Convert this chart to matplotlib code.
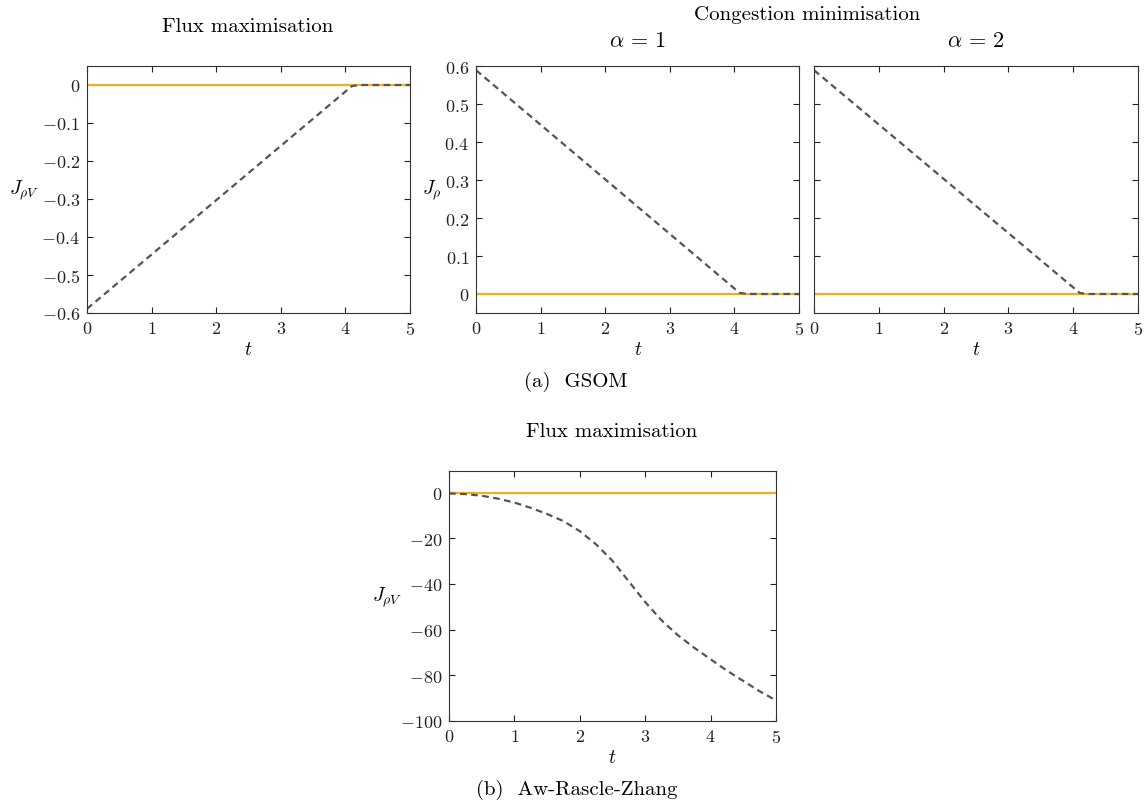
import matplotlib
matplotlib.use("Agg")
import matplotlib.pyplot as plt
from matplotlib.ticker import FuncFormatter

plt.rcParams['font.family'] = 'serif'
plt.rcParams['font.serif'] = ['cmr10', 'DejaVu Serif']
plt.rcParams['mathtext.fontset'] = 'cm'
plt.rcParams['axes.formatter.use_mathtext'] = True

YELLOW = '#EDB120'
GREY = '#555555'

# GSOM, flux maximisation
t_flux = [0, 4.1, 4.2, 5]
j_flux_dash = [-0.589, -0.003, 0, 0]
j_flux_opt = [0, 0, 0, 0]

# GSOM, congestion minimisation
t_cong1 = [0, 4.08, 4.2, 5]
j_cong1_dash = [0.589, 0.003, 0, 0]
t_cong2 = [0, 4.1, 4.2, 5]
j_cong2_dash = [0.589, 0.003, 0, 0]
j_cong_opt = [0, 0, 0, 0]

# ARZ, flux maximisation
t_arz = [0, 0.25, 0.5, 0.75, 1, 1.25, 1.5, 1.75, 2, 2.25, 2.5, 2.75,
         3, 3.25, 3.5, 3.75, 4, 4.25, 4.5, 4.75, 5]
j_arz_dash = [-0.5, -0.8, -1.5, -2.8, -4.5, -6.8, -9.5, -12.6, -17, -22.8, -30, -39,
              -48, -56, -62.5, -68, -73, -78, -82.5, -87, -91]
j_arz_opt = [-0.3] * len(t_arz)

W, H = 1147, 803
fig = plt.figure(figsize=(W / 100, H / 100), dpi=100)

fmt = FuncFormatter(lambda v, _: f'${v:g}$')


def px_axes(left, top, right, bottom):
    return fig.add_axes([left / W, 1 - bottom / H, (right - left) / W, (bottom - top) / H])


def style(ax):
    ax.tick_params(direction='in', top=True, right=True, length=4, width=0.8,
                   labelsize=13, colors='#222222', pad=5)
    for s in ax.spines.values():
        s.set_linewidth(0.8)
        s.set_color('#333333')
    ax.set_xlim(0, 5)
    ax.set_xticks([0, 1, 2, 3, 4, 5])
    ax.xaxis.set_major_formatter(fmt)
    ax.yaxis.set_major_formatter(fmt)


def ftext(x, y, s, size=15, **kw):
    fig.text(x / W, 1 - y / H, s, fontsize=size, ha='center', va='center', **kw)


ax1 = px_axes(87, 67, 410, 314)
ax1.plot(t_flux, j_flux_opt, color=YELLOW, lw=1.6)
ax1.plot(t_flux, j_flux_dash, color=GREY, lw=1.6, dashes=(3, 2))
ax1.set_ylim(-0.6, 0.05)
ax1.set_yticks([0, -0.1, -0.2, -0.3, -0.4, -0.5, -0.6])
style(ax1)

ax2 = px_axes(476, 67, 799, 314)
ax2.plot(t_cong1, j_cong_opt, color=YELLOW, lw=1.6)
ax2.plot(t_cong1, j_cong1_dash, color=GREY, lw=1.6, dashes=(3, 2))
ax2.set_ylim(-0.05, 0.6)
ax2.set_yticks([0, 0.1, 0.2, 0.3, 0.4, 0.5, 0.6])
style(ax2)

ax3 = px_axes(814, 67, 1138, 314)
ax3.plot(t_cong2, j_cong_opt, color=YELLOW, lw=1.6)
ax3.plot(t_cong2, j_cong2_dash, color=GREY, lw=1.6, dashes=(3, 2))
ax3.set_ylim(-0.05, 0.6)
ax3.set_yticks([0, 0.1, 0.2, 0.3, 0.4, 0.5, 0.6])
style(ax3)
ax3.tick_params(labelleft=False)

ax4 = px_axes(449, 472, 776, 722)
ax4.plot(t_arz, j_arz_opt, color=YELLOW, lw=1.6)
ax4.plot(t_arz, j_arz_dash, color=GREY, lw=1.6, dashes=(3, 2))
ax4.set_ylim(-100, 9.3)
ax4.set_yticks([0, -20, -40, -60, -80, -100])
style(ax4)

ftext(248, 27, 'Flux maximisation')
ftext(807, 15, 'Congestion minimisation')
ftext(638, 41, r'$\alpha\,=\,1$', size=16)
ftext(976, 41, r'$\alpha\,=\,2$', size=16)
ftext(612, 432, 'Flux maximisation')

ftext(248, 350, r'$t$', size=14)
ftext(638, 350, r'$t$', size=14)
ftext(976, 350, r'$t$', size=14)
ftext(612, 758, r'$t$', size=14)

ftext(24, 190, r'$J_{\rho V}$', size=14)
ftext(432, 190, r'$J_{\rho}$', size=14)
ftext(387, 597, r'$J_{\rho V}$', size=14)

ftext(576, 382, '(a)  GSOM')
ftext(577, 790, '(b)  Aw-Rascle-Zhang')

fig.savefig('out.png', dpi=100)
